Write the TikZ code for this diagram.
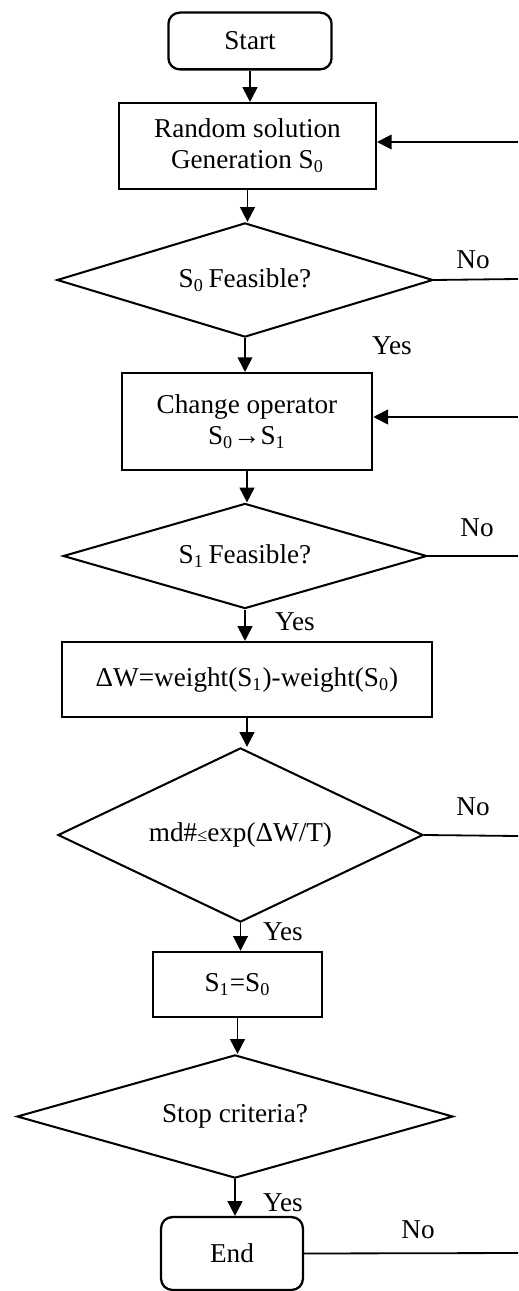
\documentclass[tikz,border=0pt]{standalone}
\usepackage{fontspec}
\setmainfont{Liberation Serif}
\usetikzlibrary{shapes.geometric,arrows.meta}

\begin{document}
\begin{tikzpicture}[
    x=0.0155cm, y=-0.0155cm,
    >={Triangle[length=6.5pt,width=6.5pt]},
    font=\fontsize{12}{13.5}\selectfont,
    % Styles
    termbox/.style={
        rectangle, rounded corners=5pt, draw, line width=1pt,
        align=center, inner sep=2pt
    },
    procbox/.style={
        rectangle, draw, line width=1pt,
        align=center, inner sep=2pt
    },
    decision/.style={
        diamond, draw, line width=0.9pt,
        align=center, inner sep=0pt
    },
    flow/.style={->, line width=0.8pt},
    backline/.style={line width=0.8pt},
    answer/.style={inner sep=0pt},
]

\useasboundingbox (0,0) rectangle (518,1291);

%--- Main column ---%
\node[termbox, minimum width=2.53cm, minimum height=0.88cm] (start) at (250,41) {Start};
\node[procbox, minimum width=3.98cm, minimum height=1.33cm] (gen) at (247.5,146)
    {Random solution\\Generation S\textsubscript{0}};
\node[decision, aspect=3.30, minimum width=5.83cm, minimum height=1.77cm] (feasA) at (245,280)
    {S\textsubscript{0}\,Feasible?};
\node[procbox, minimum width=3.88cm, minimum height=1.50cm] (change) at (247,421.5)
    {Change operator\\S\textsubscript{0}→S\textsubscript{1}};
\node[decision, aspect=3.47, minimum width=5.64cm, minimum height=1.63cm] (feasB) at (245,556)
    {S\textsubscript{1}\,Feasible?};
\node[procbox, minimum width=5.74cm, minimum height=1.16cm] (delta) at (247,679.5)
    {ΔW=weight(S\textsubscript{1})-weight(S\textsubscript{0})};
\node[decision, aspect=2.10, minimum width=5.66cm, minimum height=2.70cm] (accept) at (240.5,835)
    {md\#{\footnotesize ≤}exp(ΔW/T)};
\node[procbox, minimum width=2.62cm, minimum height=1.01cm] (swap) at (237.5,984.5)
    {S\textsubscript{1}=S\textsubscript{0}};
\node[decision, aspect=3.54, minimum width=6.76cm, minimum height=1.91cm] (stop) at (235,1116.5)
    {Stop criteria?};
\node[termbox, minimum width=2.20cm, minimum height=1.13cm] (end) at (232,1253.5) {End};

%--- Downward flow ---%
\draw[flow] (start.south) -- (start.south |- gen.north);
\draw[flow] (gen.south) -- (gen.south |- feasA.north);
\draw[flow] (feasA.south) -- (feasA.south |- change.north);
\draw[flow] (change.south) -- (change.south |- feasB.north);
\draw[flow] (feasB.south) -- (feasB.south |- delta.north);
\draw[flow] (delta.south) -- (delta.south |- accept.north);
\draw[flow] (accept.south) -- (accept.south |- swap.north);
\draw[flow] (swap.south) -- (swap.south |- stop.north);
\draw[flow] (stop.south) -- (stop.south |- end.north);

%--- Return lines (cut at the right edge) ---%
\coordinate (inGen)    at (518,142);
\coordinate (outA)     at (518,279);
\coordinate (inChange) at (518,417);
\coordinate (outB)     at (518,556);
\coordinate (outAcc)   at (518,836);
\coordinate (outEnd)   at (518,1253);

\draw[flow] (inGen) -- (gen.east |- inGen);
\draw[backline] (feasA.east) -- (outA);
\draw[flow] (inChange) -- (change.east |- inChange);
\draw[backline] (feasB.east) -- (outB);
\draw[backline] (accept.east) -- (outAcc);
\draw[backline] (end.east) -- (outEnd);

%--- Branch labels ---%
\node[answer] (noA)   at (473,260)  {No};
\node[answer] (yesA)  at (392,346)  {Yes};
\node[answer] (noB)   at (477,528)  {No};
\node[answer] (yesB)  at (295,622)  {Yes};
\node[answer] (noAcc) at (473,807)  {No};
\node[answer] (yesAcc) at (283,932) {Yes};
\node[answer] (yesStop) at (283,1203) {Yes};
\node[answer] (noStop) at (418,1230) {No};

\end{tikzpicture}
\end{document}
